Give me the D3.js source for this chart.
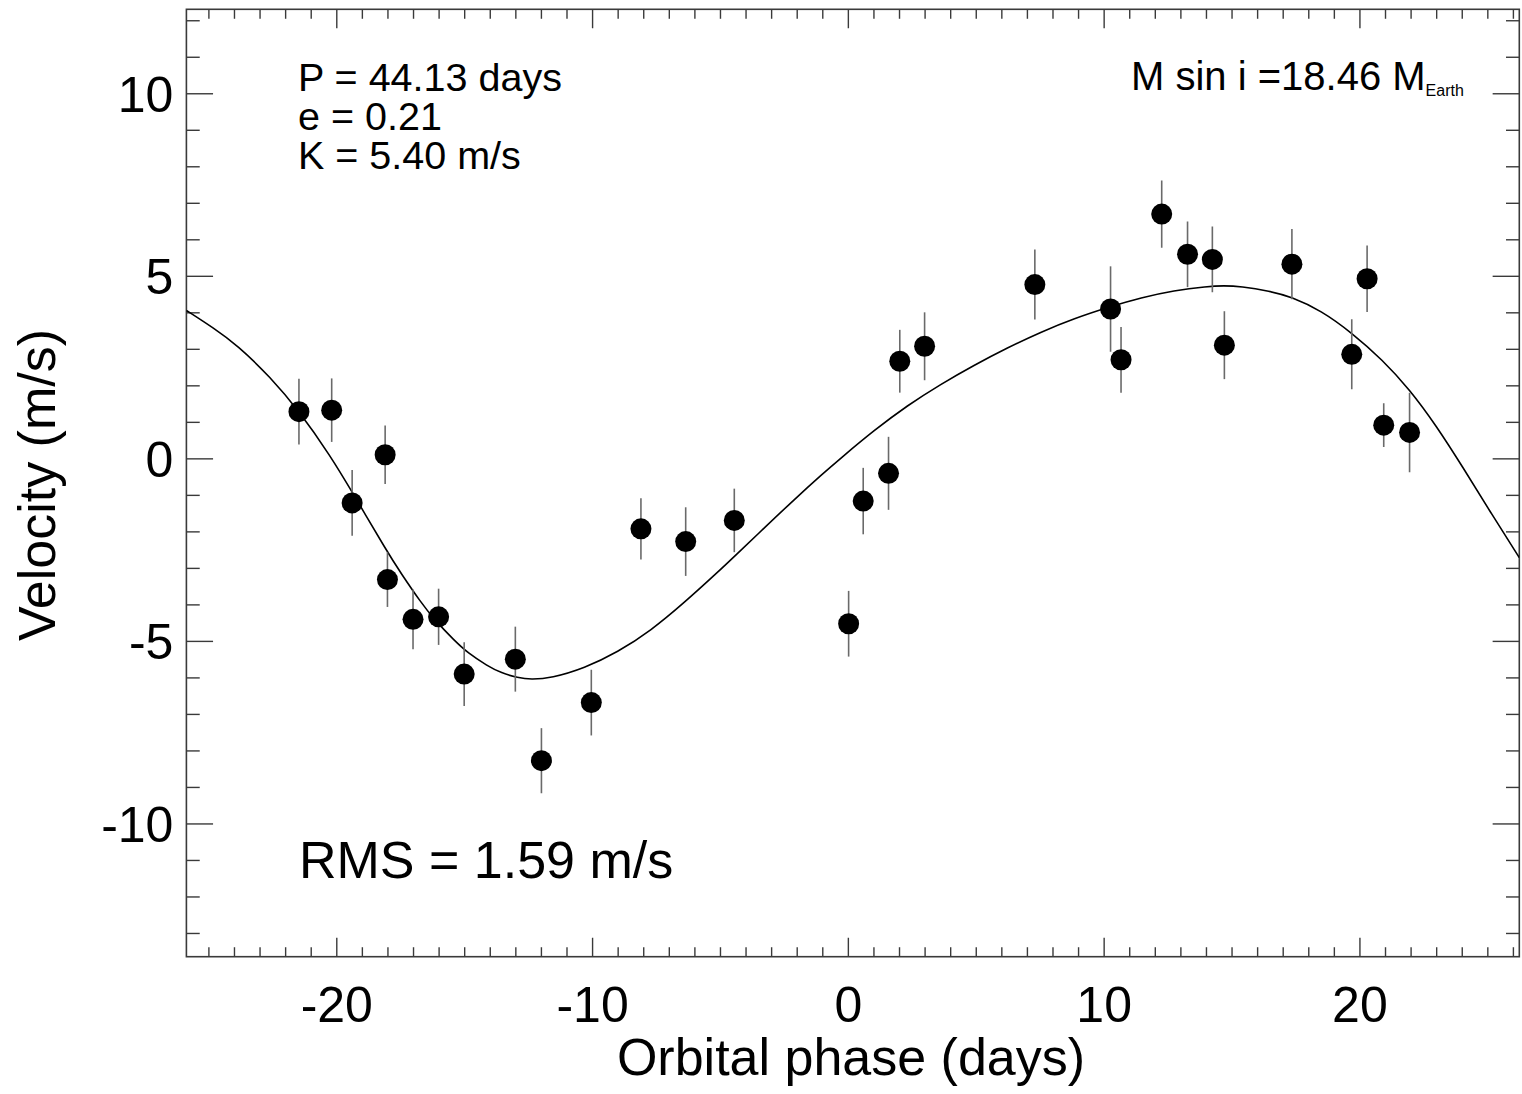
<!DOCTYPE html>
<html>
<head>
<meta charset="utf-8">
<script src="https://cdn.jsdelivr.net/npm/d3@7"></script>
<style>
  html, body { margin: 0; padding: 0; background: #fff; }
  svg { display: block; }
  text { font-family: "Liberation Sans", Arial, Helvetica, sans-serif; fill: #000; }
</style>
</head>
<body>
<svg id="chart" width="1522" height="1094"></svg>
<script>
// ---- data ----
const phase = [-21.46, -20.18, -19.38, -18.09, -18.00, -17.00, -16.00, -15.00, -13.00, -11.98,
               -10.03, -8.09, -6.34, -4.44, 0.03, 0.60, 1.59, 2.03, 3.00, 7.31,
               10.27, 10.68, 12.27, 13.28, 14.25, 14.72, 17.36, 19.70, 20.30, 20.95, 21.96];
const velocity = [1.28, 1.32, -1.22, 0.10, -3.32, -4.41, -4.34, -5.91, -5.50, -8.28,
                  -6.69, -1.93, -2.28, -1.70, -4.53, -1.17, -0.41, 2.66, 3.07, 4.76,
                  4.09, 2.70, 6.69, 5.59, 5.45, 3.10, 5.32, 2.85, 4.92, 0.91, 0.71];
const velError = [0.90, 0.87, 0.90, 0.80, 0.75, 0.82, 0.77, 0.87, 0.89, 0.89,
                  0.90, 0.84, 0.94, 0.87, 0.90, 0.91, 1.00, 0.86, 0.93, 0.96,
                  1.17, 0.90, 0.92, 0.90, 0.90, 0.93, 0.96, 0.96, 0.91, 0.60, 1.09];

// Keplerian model curve, sampled by eye from the reference
const modelPhase = [-25.86, -24.80, -23.87, -22.57, -21.46, -20.22, -19.38, -18.01, -17.46, -16.71,
                    -16.16, -15.40, -14.86, -14.10, -13.55, -12.90, -12.40, -11.60, -10.30, -9.00,
                    -7.70, -6.39, -5.09, -4.44, -3.20, -2.10, -1.00, -0.27, 1.03, 2.33,
                    3.63, 4.93, 6.24, 7.54, 8.84, 10.27, 11.45, 12.75, 14.05, 14.70,
                    15.35, 16.50, 17.32, 18.50, 19.70, 20.90, 21.96, 23.00, 24.05, 25.10,
                    26.25];
const modelVelocity = [4.05, 3.57, 3.10, 2.22, 1.30, 0.06, -0.92, -2.56, -3.16, -3.93,
                       -4.42, -4.98, -5.33, -5.68, -5.88, -6.01, -6.06, -6.02, -5.75, -5.31,
                       -4.72, -3.95, -3.12, -2.69, -1.86, -1.13, -0.43, 0.01, 0.77, 1.45,
                       2.03, 2.55, 3.03, 3.46, 3.83, 4.16, 4.40, 4.60, 4.71, 4.73,
                       4.71, 4.58, 4.43, 4.05, 3.44, 2.70, 1.89, 0.90, -0.25, -1.45,
                       -2.72];

const xTicks = [-20, -10, 0, 10, 20];
const yTicks = [-10, -5, 0, 5, 10];
const xMinorTicks = d3.range(-25, 27, 1);
const yMinorTicks = d3.range(-13, 13, 1);
const xDomain = [-25.86, 26.25];
const yDomain = [-13.65, 12.3];

const paramLines = ["P = 44.13 days", "e = 0.21", "K = 5.40 m/s"];
const massLabel = "M sin i =18.46 M";
const massSub = "Earth";
const rmsLabel = "RMS = 1.59 m/s";
const xTitle = "Orbital phase (days)";
const yTitle = "Velocity (m/s)";

// ---- layout ----
const svg = d3.select("#chart");
const L = 186.4, R = 1519.3, T = 9.3, B = 956.7;
const W = R - L, H = B - T;

const x = d3.scaleLinear().domain(xDomain).range([L, R]);
const y = d3.scaleLinear().domain(yDomain).range([B, T]);

const axisColor = "#3a3a3a";
const xMaj = 0.02 * H, xMin = 0.01 * H;
const yMaj = 0.02 * W, yMin = 0.01 * W;
const fmt = d => String(d);

function styleAxis(g) {
  g.select(".domain").remove();
  g.selectAll(".tick line").attr("stroke", axisColor).attr("stroke-width", 1.4);
}
const xMinorOnly = xMinorTicks.filter(v => !xTicks.includes(v));
const yMinorOnly = yMinorTicks.filter(v => !yTicks.includes(v));

// bottom axis
svg.append("g").attr("transform", `translate(0,${B})`)
  .call(d3.axisBottom(x).tickValues(xTicks).tickSize(-xMaj).tickPadding(34).tickFormat(fmt))
  .call(styleAxis)
  .call(g => g.selectAll("text").attr("font-size", 50).attr("dy", "0.62em")
        .style("font-family", '"Liberation Sans", Arial, sans-serif').attr("fill", "#000"));
svg.append("g").attr("transform", `translate(0,${B})`)
  .call(d3.axisBottom(x).tickValues(xMinorOnly).tickSize(-xMin).tickFormat(""))
  .call(styleAxis);
// top axis
svg.append("g").attr("transform", `translate(0,${T})`)
  .call(d3.axisTop(x).tickValues(xTicks).tickSize(-xMaj).tickFormat(""))
  .call(styleAxis);
svg.append("g").attr("transform", `translate(0,${T})`)
  .call(d3.axisTop(x).tickValues(xMinorOnly).tickSize(-xMin).tickFormat(""))
  .call(styleAxis);
// left axis
svg.append("g").attr("transform", `translate(${L},0)`)
  .call(d3.axisLeft(y).tickValues(yTicks).tickSize(-yMaj).tickPadding(13).tickFormat(fmt))
  .call(styleAxis)
  .call(g => g.selectAll("text").attr("font-size", 50).attr("dy", "0.36em")
        .style("font-family", '"Liberation Sans", Arial, sans-serif').attr("fill", "#000"));
svg.append("g").attr("transform", `translate(${L},0)`)
  .call(d3.axisLeft(y).tickValues(yMinorOnly).tickSize(-yMin).tickFormat(""))
  .call(styleAxis);
// right axis
svg.append("g").attr("transform", `translate(${R},0)`)
  .call(d3.axisRight(y).tickValues(yTicks).tickSize(-yMaj).tickFormat(""))
  .call(styleAxis);
svg.append("g").attr("transform", `translate(${R},0)`)
  .call(d3.axisRight(y).tickValues(yMinorOnly).tickSize(-yMin).tickFormat(""))
  .call(styleAxis);

// frame
svg.append("rect").attr("x", L).attr("y", T).attr("width", W).attr("height", H)
  .attr("fill", "none").attr("stroke", axisColor).attr("stroke-width", 1.6);

// clip
svg.append("clipPath").attr("id", "plotclip").append("rect")
  .attr("x", L).attr("y", T).attr("width", W).attr("height", H);
const plot = svg.append("g").attr("clip-path", "url(#plotclip)");

// model curve
const model = modelPhase.map((p, i) => ({ p, v: modelVelocity[i] }));
plot.append("path").datum(model)
  .attr("fill", "none").attr("stroke", "#000").attr("stroke-width", 1.6)
  .attr("d", d3.line().x(d => x(d.p)).y(d => y(d.v)).curve(d3.curveBasis));

// data with error bars
const obs = phase.map((p, i) => ({ p, v: velocity[i], e: velError[i] }));
plot.selectAll("line.err").data(obs).join("line").attr("class", "err")
  .attr("x1", d => x(d.p)).attr("x2", d => x(d.p))
  .attr("y1", d => y(d.v - d.e)).attr("y2", d => y(d.v + d.e))
  .attr("stroke", "#6a6a6a").attr("stroke-width", 1.6);
plot.selectAll("circle.pt").data(obs).join("circle").attr("class", "pt")
  .attr("cx", d => x(d.p)).attr("cy", d => y(d.v)).attr("r", 10.5).attr("fill", "#000");

// annotations
const ann = svg.append("g");
ann.selectAll("text.param").data(paramLines).join("text").attr("class", "param")
  .attr("x", 298).attr("y", (d, i) => 91 + i * 39).attr("font-size", 39.5).text(d => d);
const mt = ann.append("text").attr("x", 1131).attr("y", 90).attr("font-size", 40);
mt.append("tspan").text(massLabel);
mt.append("tspan").attr("font-size", 16).attr("dy", 6).text(massSub);
ann.append("text").attr("x", 299).attr("y", 878).attr("font-size", 52).text(rmsLabel);

// axis titles
svg.append("text").attr("x", 851).attr("y", 1075).attr("text-anchor", "middle")
  .attr("font-size", 52).text(xTitle);
svg.append("text").attr("transform", "translate(55,485) rotate(-90)").attr("text-anchor", "middle")
  .attr("font-size", 52).text(yTitle);
</script>
</body>
</html>
